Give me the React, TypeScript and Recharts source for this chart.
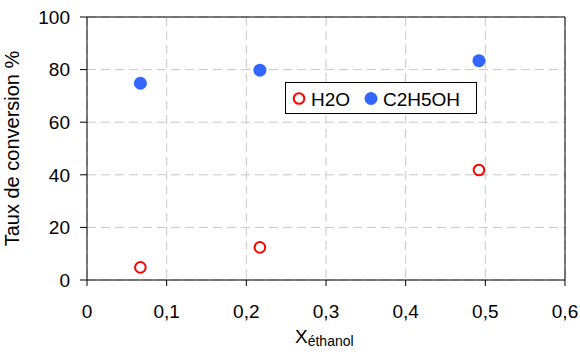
import { ScatterChart, Scatter, XAxis, YAxis, CartesianGrid, ReferenceLine } from 'recharts';

const xEthanol = [0.067, 0.217, 0.492];
const h2oConversion = [4.8, 12.4, 41.8];
const ethanolConversion = [74.8, 79.8, 83.4];
const xTicks = [0, 0.1, 0.2, 0.3, 0.4, 0.5, 0.6];
const yTicks = [0, 20, 40, 60, 80, 100];
const seriesNames = ['H2O', 'C2H5OH'];

const h2oData = xEthanol.map((x, i) => ({ x, y: h2oConversion[i] }));
const ethanolData = xEthanol.map((x, i) => ({ x, y: ethanolConversion[i] }));

const FONT = '"Liberation Sans", Arial, sans-serif';
const RED = '#ff0000';
const BLUE = '#3366ff';

const OpenCircle = (props: { cx?: number; cy?: number }) => (
  <circle cx={props.cx} cy={props.cy} r={5.3} fill="#fff" stroke={RED} strokeWidth={2} />
);

const FilledCircle = (props: { cx?: number; cy?: number }) => (
  <circle cx={props.cx} cy={props.cy} r={6.5} fill={BLUE} />
);

// legend box sits inside the plot, drawn as an overlay so it doesn't eat chart space
function LegendBox() {
  return (
    <svg
      width={193}
      height={33}
      style={{ position: 'absolute', left: 285, top: 82, fontFamily: FONT }}
    >
      <rect x={0.5} y={0.5} width={191} height={31} fill="#fff" stroke="#000" />
      <circle cx={14} cy={16.5} r={5.3} fill="#fff" stroke={RED} strokeWidth={2} />
      <text x={26} y={24} fontSize={19} fill="#000">{seriesNames[0]}</text>
      <circle cx={86} cy={16.5} r={6.5} fill={BLUE} />
      <text x={98} y={24} fontSize={19} fill="#000">{seriesNames[1]}</text>
    </svg>
  );
}

function XLabel(props: { viewBox?: { x: number; y: number; width: number; height: number } }) {
  const vb = props.viewBox;
  if (!vb) return null;
  return (
    <text x={295} y={vb.y + 63} fontFamily={FONT} fontSize={19} fill="#000">
      X
      <tspan fontSize={14} dy={3}>éthanol</tspan>
    </text>
  );
}

export default function App() {
  return (
    <div style={{ position: 'absolute', left: 0, top: 0, width: 580, height: 354, background: '#fff' }}>
      <ScatterChart
        width={580}
        height={354}
        margin={{ top: 17, right: 15, bottom: 0, left: 0 }}
      >
        <CartesianGrid stroke="#c8c8c8" strokeDasharray="9 5" />
        <XAxis
          type="number"
          dataKey="x"
          domain={[0, 0.6]}
          ticks={xTicks}
          tickFormatter={(v: number) => String(v).replace('.', ',')}
          height={74}
          stroke="#000"
          tickSize={6}
          tickMargin={19}
          tick={{ fill: '#000', fontSize: 19, fontFamily: FONT }}
          label={<XLabel />}
        />
        <YAxis
          type="number"
          dataKey="y"
          domain={[0, 100]}
          ticks={yTicks}
          width={87}
          stroke="#000"
          tickSize={7}
          tickMargin={10}
          tick={{ fill: '#000', fontSize: 19, fontFamily: FONT }}
          label={{
            value: 'Taux de conversion %',
            angle: -90,
            position: 'insideLeft',
            offset: 12,
            style: { textAnchor: 'middle', fill: '#000', fontSize: 20, fontFamily: FONT },
          }}
        />
        <ReferenceLine y={100} stroke="#000" />
        <ReferenceLine x={0.6} stroke="#000" />
        <Scatter name={seriesNames[0]} data={h2oData} shape={OpenCircle} isAnimationActive={false} />
        <Scatter name={seriesNames[1]} data={ethanolData} shape={FilledCircle} isAnimationActive={false} />
      </ScatterChart>
      <LegendBox />
    </div>
  );
}
